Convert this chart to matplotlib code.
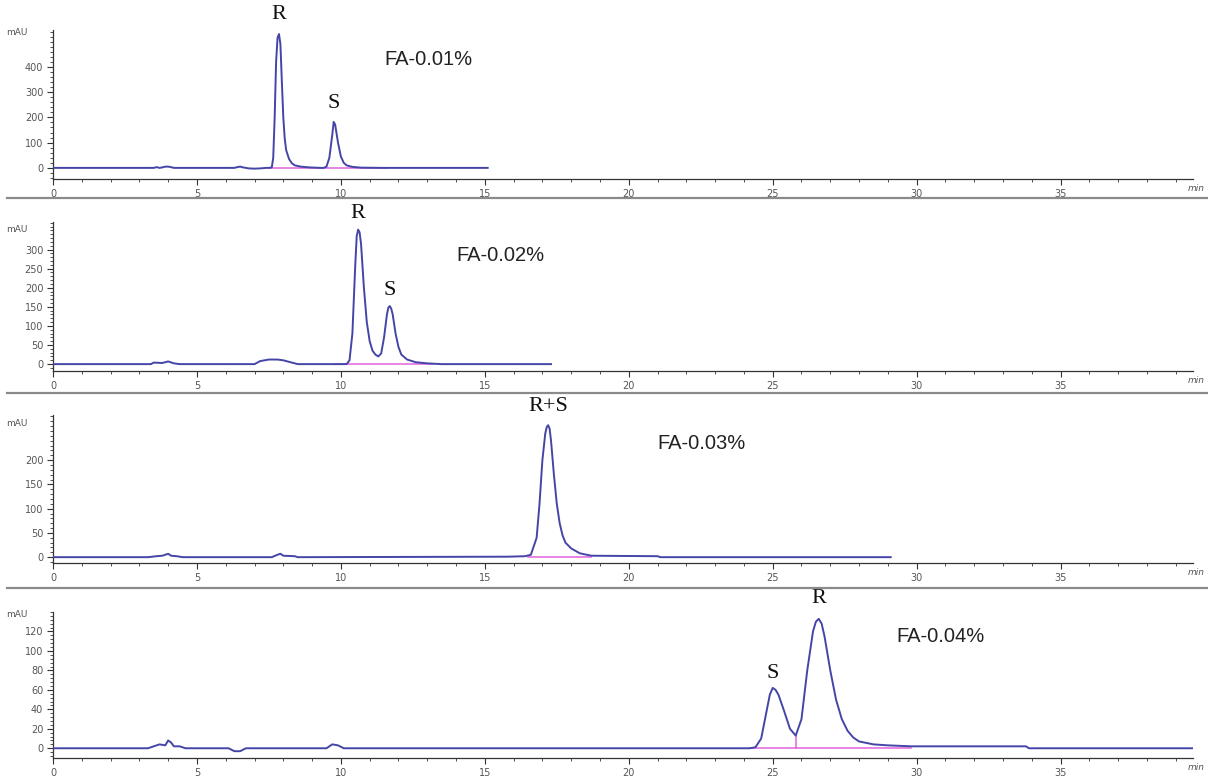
"""Four stacked HPLC chromatograms of the R/S enantiomers at rising formic-acid levels."""

import matplotlib

matplotlib.use("Agg")

import matplotlib.pyplot as plt
from matplotlib.lines import Line2D
from matplotlib.ticker import MultipleLocator

# --- data (retention time in min, signal in mAU) ---
P1_TIME = [0, 3.5, 3.6, 3.7, 3.8, 3.9, 4.0, 4.1, 4.2, 4.3, 6.3, 6.4, 6.5, 6.6,
           6.8, 7.0, 7.2, 7.4, 7.5, 7.6, 7.65, 7.7, 7.75, 7.8, 7.85, 7.9, 7.95,
           8.0, 8.05, 8.1, 8.2, 8.3, 8.4, 8.6, 8.9, 9.3, 9.4, 9.5, 9.6, 9.7,
           9.75, 9.8, 9.9, 10.0, 10.1, 10.2, 10.4, 10.7, 11.5, 15.1]
P1_MAU = [0, 0, 3, 0, 2, 5, 5, 3, 0, 0, 0, 3, 5, 2,
          -2, -3, -2, 0, 0, 2, 40, 200, 420, 515, 530, 490, 340,
          200, 115, 70, 35, 18, 10, 5, 2, 0, 0, 5, 40, 130,
          182, 172, 100, 45, 20, 10, 4, 1, 0, 0]

P2_TIME = [0, 3.4, 3.5, 3.8, 4.0, 4.2, 4.4, 7.0, 7.2, 7.5, 7.8, 8.0, 8.3, 8.5,
           10.2, 10.3, 10.4, 10.5, 10.55, 10.6, 10.65, 10.7, 10.8, 10.9, 11.0,
           11.1, 11.2, 11.3, 11.4, 11.5, 11.6, 11.65, 11.7, 11.75, 11.8, 11.9,
           12.0, 12.1, 12.3, 12.6, 13.0, 13.5, 17.3]
P2_MAU = [0, 0, 4, 3, 7, 2, 0, 0, 8, 12, 12, 10, 4, 0,
          0, 10, 80, 260, 335, 352, 345, 315, 200, 110, 60,
          35, 25, 20, 28, 70, 130, 148, 152, 145, 130, 80,
          45, 25, 12, 5, 2, 0, 0]

P3_TIME = [0, 3.3, 3.6, 3.8, 4.0, 4.1, 4.3, 4.5, 7.6, 7.8, 7.9, 8.0, 8.4, 8.5,
           15.8, 16.4, 16.6, 16.8, 16.9, 17.0, 17.1, 17.15, 17.2, 17.25, 17.3,
           17.4, 17.5, 17.6, 17.7, 17.8, 18.0, 18.3, 18.7, 21.0, 21.1, 29.1]
P3_MAU = [0, 0, 2, 3, 7, 3, 2, 0, 0, 5, 7, 3, 2, 0,
          1, 2, 5, 40, 110, 200, 255, 268, 272, 265, 240,
          170, 110, 70, 45, 30, 18, 8, 3, 2, 0, 0]

P4_TIME = [0, 3.3, 3.5, 3.7, 3.9, 4.0, 4.1, 4.2, 4.4, 4.6, 6.1, 6.3, 6.5, 6.7,
           9.5, 9.7, 9.9, 10.1, 24.2, 24.4, 24.6, 24.8, 24.9, 25.0, 25.1, 25.2,
           25.4, 25.6, 25.8, 26.0, 26.2, 26.4, 26.5, 26.6, 26.7, 26.8, 27.0,
           27.2, 27.4, 27.6, 27.8, 28.0, 28.5, 29.0, 29.8, 33.8, 33.9, 39.6]
P4_MAU = [0, 0, 2, 4, 3, 8, 6, 2, 2, 0, 0, -3, -3, 0,
          0, 4, 3, 0, 0, 1, 10, 40, 55, 62, 60, 55,
          38, 20, 13, 30, 80, 120, 130, 133, 128, 115, 80,
          50, 30, 18, 11, 7, 4, 3, 2, 2, 0, 0]

# integration baselines (start, end) and valley drop line
P1_BASE = [(7.5, 11.6)]
P2_BASE = [(9.8, 13.2)]
P3_BASE = [(16.5, 18.7)]
P4_BASE = [(24.2, 29.8)]
P4_DROP = [(25.8, 13)]

CONDITIONS = ["FA-0.01%", "FA-0.02%", "FA-0.03%", "FA-0.04%"]
PEAK_LABELS = [
    [("R", 7.85), ("S", 9.75)],
    [("R", 10.6), ("S", 11.7)],
    [("R+S", 17.2)],
    [("S", 25.0), ("R", 26.6)],
]

# --- layout / style ---
TRACE = "#4545a8"
BASE = "#e064dc"
TICK_GREY = "#555555"
X_MAX = 39.6
LEFT, RIGHT = 53 / 1208, 1193 / 1208
# (bottom px, top px) of each plot frame in the 778 px tall image
FRAMES = [(179, 30), (371, 222), (563, 415), (758, 612)]
YLIMS = [(-44, 546), (-18, 372), (-12, 293), (-10, 140)]
YSTEPS = [100, 50, 50, 20]
YTOPS = [400, 300, 200, 120]
MAU_Y = [535, 352, 276, 137]
PEAK_TEXT_Y = [[606, 253], [394, 193], [311], [77, 154]]
COND_POS = [(11.5, 428), (14.0, 285), (21.0, 235), (29.3, 115)]
SEPARATORS = [198, 393, 588]


def _panel(ax, time, mau, bases, idx):
    ax.plot(time, mau, color=TRACE, linewidth=1.4, zorder=3)
    for start, end in bases:
        ax.plot([start, end], [0, 0], color=BASE, linewidth=1.1, zorder=2)
    ax.set_xlim(0, X_MAX)
    ax.set_ylim(*YLIMS[idx])
    for side in ("top", "right"):
        ax.spines[side].set_visible(False)
    for side in ("left", "bottom"):
        ax.spines[side].set_color("#333333")
        ax.spines[side].set_linewidth(0.9)
    step = YSTEPS[idx]
    ax.set_yticks(list(range(0, YTOPS[idx] + 1, step)))
    ax.yaxis.set_minor_locator(MultipleLocator(step / 5))
    ax.xaxis.set_minor_locator(MultipleLocator(1))
    ax.set_xticks(list(range(0, 36, 5)))
    ax.tick_params(axis="both", which="major", labelsize=7,
                   labelcolor=TICK_GREY, color="#333333", length=4, width=0.8)
    ax.tick_params(axis="both", which="minor", color="#333333", length=2,
                   width=0.6)
    ax.tick_params(axis="y", pad=3)
    ax.tick_params(axis="x", pad=3)
    ax.text(-0.9, MAU_Y[idx], "mAU", ha="right", va="center", fontsize=6.5,
            color=TICK_GREY, clip_on=False)
    ax.text(1.0105, -0.035, "min", transform=ax.transAxes, ha="right",
            va="top", fontsize=6.5, color=TICK_GREY, style="italic",
            clip_on=False)
    for (label, x), y in zip(PEAK_LABELS[idx], PEAK_TEXT_Y[idx]):
        ax.text(x, y, label, ha="center", va="center", fontsize=16,
                family="Liberation Serif", color="#111111", clip_on=False)
    cx, cy = COND_POS[idx]
    ax.text(cx, cy, CONDITIONS[idx], ha="left", va="center", fontsize=14.5,
            family="Liberation Sans", color="#222222")


fig = plt.figure(figsize=(12.08, 7.78), dpi=100)
series = [(P1_TIME, P1_MAU, P1_BASE), (P2_TIME, P2_MAU, P2_BASE),
          (P3_TIME, P3_MAU, P3_BASE), (P4_TIME, P4_MAU, P4_BASE)]
axes = []
for i, ((bottom_px, top_px), (t, y, b)) in enumerate(zip(FRAMES, series)):
    ax = fig.add_axes([LEFT, 1 - bottom_px / 778, RIGHT - LEFT,
                       (bottom_px - top_px) / 778])
    _panel(ax, t, y, b, i)
    axes.append(ax)

for x, top in P4_DROP:
    axes[3].plot([x, x], [0, top], color=BASE, linewidth=1.1, zorder=2)

for y_px in SEPARATORS:
    fig.add_artist(Line2D([7 / 1208, 1.0], [1 - y_px / 778] * 2,
                          color="#8a8a8a", linewidth=1.6))

fig.savefig("out.png", dpi=100)
plt.close(fig)
